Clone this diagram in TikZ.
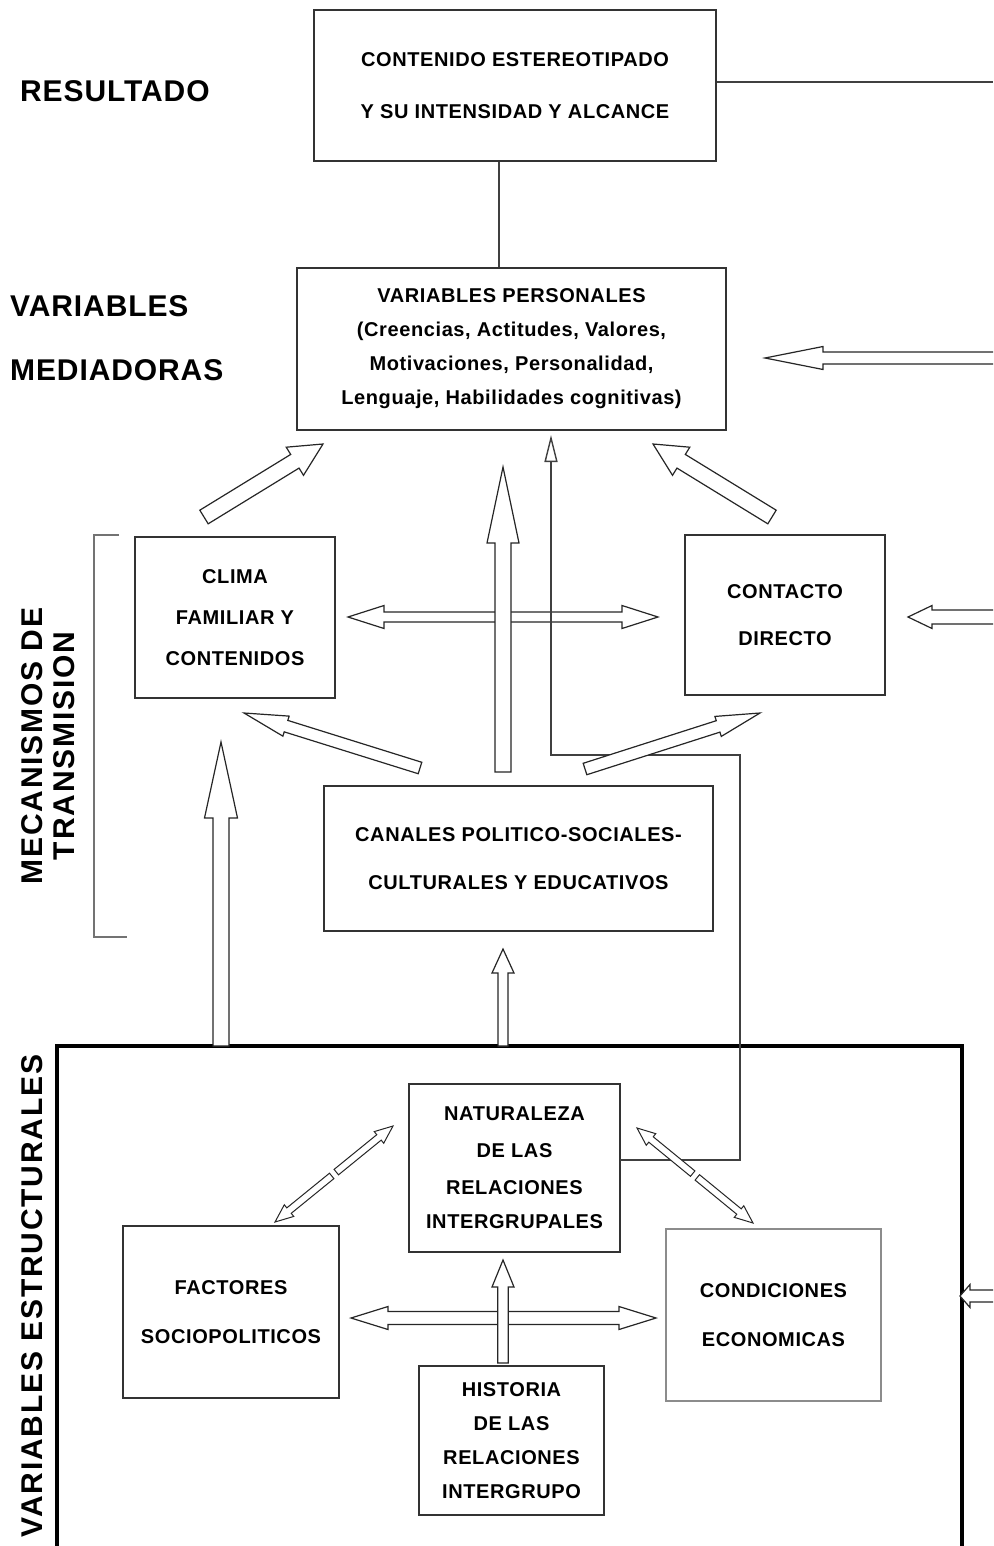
\documentclass[tikz,border=0pt]{standalone}
\usepackage{fontspec}
\setmainfont{Liberation Sans}
\newfontfamily\boxfont{Liberation Sans}[LetterSpace=3]
\newfontfamily\sidefont{Liberation Sans}[LetterSpace=3]
\newfontfamily\vertfont{Liberation Sans}[LetterSpace=6]
\usetikzlibrary{positioning, calc, arrows.meta}

\tikzset{
    box/.style={draw=black!80, line width=1.4pt, align=center, inner sep=0pt,
        font=\fontsize{20}{24}\boxfont\bfseries},
    side/.style={anchor=west, inner sep=0pt,
        font=\fontsize{30}{36}\sidefont\bfseries},
    vert/.style={rotate=90, inner sep=0pt, align=center,
        font=\fontsize{30}{32}\vertfont\bfseries},
    blk/.style={draw=black!85, fill=white, line width=1.2pt},
    link/.style={draw=black!75, line width=1.4pt},
    frame/.style={draw=black, line width=4pt},
    bracket/.style={draw=black!55, line width=1.5pt},
}

% hollow arrow: [opts]{tail}{tip}{shaft}{head}{head length}
\newcommand\blockarrow[6][]{%
    \draw[blk,#1] let \p1=(#2), \p2=(#3),
        \n1={atan2(\y2-\y1,\x2-\x1)}, \n2={veclen(\x2-\x1,\y2-\y1)-#6pt} in
        ($(\p1)+(\n1+90:#4pt)$) -- ($(\p1)+(\n1:\n2)+(\n1+90:#4pt)$)
        -- ($(\p1)+(\n1:\n2)+(\n1+90:#5pt)$) -- (\p2)
        -- ($(\p1)+(\n1:\n2)+(\n1-90:#5pt)$) -- ($(\p1)+(\n1:\n2)+(\n1-90:#4pt)$)
        -- ($(\p1)+(\n1-90:#4pt)$) -- cycle;}
% hollow arrow with two heads
\newcommand\dblarrow[6][]{%
    \draw[blk,#1] let \p1=(#2), \p2=(#3),
        \n1={atan2(\y2-\y1,\x2-\x1)}, \n2={veclen(\x2-\x1,\y2-\y1)-#6pt} in
        (\p1) -- ($(\p1)+(\n1:#6pt)+(\n1+90:#5pt)$) -- ($(\p1)+(\n1:#6pt)+(\n1+90:#4pt)$)
        -- ($(\p1)+(\n1:\n2)+(\n1+90:#4pt)$) -- ($(\p1)+(\n1:\n2)+(\n1+90:#5pt)$)
        -- (\p2)
        -- ($(\p1)+(\n1:\n2)+(\n1-90:#5pt)$) -- ($(\p1)+(\n1:\n2)+(\n1-90:#4pt)$)
        -- ($(\p1)+(\n1:#6pt)+(\n1-90:#4pt)$) -- ($(\p1)+(\n1:#6pt)+(\n1-90:#5pt)$)
        -- cycle;}

\begin{document}
\begin{tikzpicture}[x=1pt, y=-1pt]
    \useasboundingbox (0,0) rectangle (993,1546);
    \clip (0,0) rectangle (993,1546);

    % levels
    \node [side] (resultado) at (20,91) {RESULTADO};
    \node [side] (mediadoras a) at (10,306) {VARIABLES};
    \node [side] (mediadoras b) at (10,370) {MEDIADORAS};
    \node [vert] (mecanismos) at (48,746) {MECANISMOS DE\\TRANSMISION};
    \node [vert] (estructurales) at (32,1296) {VARIABLES ESTRUCTURALES};

    \draw [bracket] (119,535) -- (94,535) -- (94,937) -- (127,937);
    \draw [frame] (57,1580) |- (962,1046) -- (962,1580);

    % boxes
    \node [box,
    minimum width=402pt,
    minimum height=151pt
    ] (contenido) at (515,85.5) {
        CONTENIDO ESTEREOTIPADO\\[28pt]
        Y SU INTENSIDAD Y ALCANCE
    };

    \node [box,
    minimum width=429pt,
    minimum height=162pt
    ] (personales) at (511.5,349) {
        VARIABLES PERSONALES\\[10pt]
        (Creencias, Actitudes, Valores,\\[10pt]
        Motivaciones, Personalidad,\\[10pt]
        Lenguaje, Habilidades cognitivas)
    };

    \node [box,
    minimum width=200pt,
    minimum height=161pt
    ] (clima) at (235,617.5) {
        CLIMA\\[17pt]
        FAMILIAR Y\\[17pt]
        CONTENIDOS
    };

    \node [box,
    minimum width=200pt,
    minimum height=160pt
    ] (contacto) at (785,615) {
        CONTACTO\\[23pt]
        DIRECTO
    };

    \node [box,
    minimum width=389pt,
    minimum height=145pt
    ] (canales) at (518.5,858.5) {
        CANALES POLITICO-SOCIALES-\\[24pt]
        CULTURALES Y EDUCATIVOS
    };

    \node [box,
    minimum width=211pt,
    minimum height=168pt
    ] (naturaleza) at (514.5,1168) {
        NATURALEZA\\[13pt]
        DE LAS\\[13pt]
        RELACIONES\\[10pt]
        INTERGRUPALES
    };

    \node [box,
    minimum width=216pt,
    minimum height=172pt
    ] (factores) at (231,1312) {
        FACTORES\\[25pt]
        SOCIOPOLITICOS
    };

    \node [box,
    draw=black!45,
    minimum width=215pt,
    minimum height=172pt
    ] (condiciones) at (773.5,1315) {
        CONDICIONES\\[25pt]
        ECONOMICAS
    };

    \node [box,
    minimum width=185pt,
    minimum height=149pt
    ] (historia) at (511.5,1440.5) {
        HISTORIA\\[10pt]
        DE LAS\\[10pt]
        RELACIONES\\[10pt]
        INTERGRUPO
    };

    % free ends and arrow ends
    \coordinate (edge res) at (993,82);
    \coordinate (edge vp) at (1000,358);
    \coordinate (vp right) at (765,358);
    \coordinate (edge co) at (1000,617);
    \coordinate (co right) at (908,617);
    \coordinate (edge es) at (1000,1296);
    \coordinate (es right) at (960,1296);
    \coordinate (cl out) at (204,517);
    \coordinate (cl in vp) at (323,444);
    \coordinate (co out) at (772,517);
    \coordinate (co in vp) at (653,444);
    \coordinate (ca up) at (503,772);
    \coordinate (ca in vp) at (503,467);
    \coordinate (cl side) at (348,617);
    \coordinate (co side) at (658,617);
    \coordinate (ca left) at (420,768);
    \coordinate (cl in) at (244,713);
    \coordinate (ca right) at (585,769);
    \coordinate (co in) at (760,713);
    \coordinate (es left) at (221,1046);
    \coordinate (cl bottom) at (221,742);
    \coordinate (es mid) at (503,1046);
    \coordinate (ca in) at (503,949);
    \coordinate (fa side) at (351,1318);
    \coordinate (cd side) at (656,1318);
    \coordinate (hi up) at (503,1363);
    \coordinate (na in) at (503,1260);
    \coordinate (na fa) at (393,1126);
    \coordinate (fa na) at (275,1222);
    \coordinate (mid fa a) at (336.3,1172.1);
    \coordinate (mid fa b) at (331.7,1175.9);
    \coordinate (na cd) at (637,1128);
    \coordinate (cd na) at (753,1223);
    \coordinate (mid cd a) at (692.7,1173.6);
    \coordinate (mid cd b) at (697.3,1177.4);
    \coordinate (nat out) at (620,1160);
    \coordinate (nat turn) at (740,755);
    \coordinate (vp in) at (551,435);

    % lines
    \draw [link] (contenido.south -| 499,0) -- (personales.north -| 499,0);
    \draw [link] (contenido.east |- edge res) -- (edge res);

    % arrow hell
    \dblarrow{cl side}{co side}{5}{11.5}{36}
    \draw [link, -{Triangle[open, length=27pt, width=13pt]}]
        (nat out) -| (nat turn) -| (vp in);

    \blockarrow{edge vp}{vp right}{6}{11.5}{58}
    \blockarrow{edge co}{co right}{7}{11.5}{24}
    \blockarrow{edge es}{es right}{6}{11.5}{10}

    \blockarrow{cl out}{cl in vp}{8}{16.5}{33}
    \blockarrow{co out}{co in vp}{8}{16.5}{33}
    \blockarrow{ca up}{ca in vp}{8}{16}{76}
    \blockarrow{ca left}{cl in}{6}{10.5}{44}
    \blockarrow{ca right}{co in}{6}{10.5}{44}
    \blockarrow{es left}{cl bottom}{8}{16.5}{76}
    \blockarrow{es mid}{ca in}{5}{11}{24}

    \dblarrow{fa side}{cd side}{6.5}{11.5}{37}
    \blockarrow{hi up}{na in}{5.3}{11}{27}
    \blockarrow[line width=1pt]{mid fa a}{na fa}{3.5}{7.5}{18}
    \blockarrow[line width=1pt]{mid fa b}{fa na}{3.5}{7.5}{18}
    \blockarrow[line width=1pt]{mid cd a}{na cd}{3.5}{7.5}{18}
    \blockarrow[line width=1pt]{mid cd b}{cd na}{3.5}{7.5}{18}
\end{tikzpicture}
\end{document}
